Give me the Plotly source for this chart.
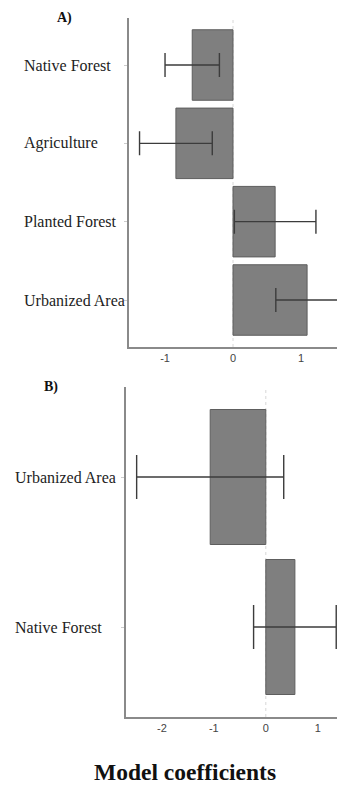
import plotly.graph_objects as go

# Panel A: land-use coefficients with symmetric error half-widths
cats_a = ["Native Forest", "Agriculture", "Planted Forest", "Urbanized Area"]
coef_a = [-0.60, -0.84, 0.62, 1.09]
err_a = [0.40, 0.535, 0.60, 0.46]

# Panel B
cats_b = ["Urbanized Area", "Native Forest"]
coef_b = [-1.07, 0.56]
err_b = [1.415, 0.795]

ticks_a = [-1, 0, 1]
ticks_b = [-2, -1, 0, 1]
ticktext_a = ["-1", "0", "1"]
ticktext_b = ["-2", "-1", "0", "1"]

W, H = 337, 785
bar_fill = "#7f7f7f"
bar_edge = "#5e5e5e"
err_col = "#3c3c3c"
serif = "Liberation Serif, Times New Roman, serif"
sans = "Liberation Sans, Arial, sans-serif"

fig = go.Figure()
fig.add_trace(go.Bar(
    y=cats_a, x=coef_a, orientation="h", width=0.9,
    marker=dict(color=bar_fill, line=dict(color=bar_edge, width=1)),
    error_x=dict(type="data", array=err_a, visible=True, color=err_col,
                 thickness=1.4, width=12),
    xaxis="x", yaxis="y", showlegend=False,
))
fig.add_trace(go.Bar(
    y=cats_b, x=coef_b, orientation="h", width=0.9,
    marker=dict(color=bar_fill, line=dict(color=bar_edge, width=1)),
    error_x=dict(type="data", array=err_b, visible=True, color=err_col,
                 thickness=1.4, width=22),
    xaxis="x2", yaxis="y2", showlegend=False,
))

axis_line = dict(showline=True, linecolor="#8a8a8a", linewidth=1.6,
                 showgrid=False, zeroline=False)

fig.update_layout(
    width=W, height=H,
    margin=dict(l=0, r=0, t=0, b=0),
    plot_bgcolor="white", paper_bgcolor="white",
    bargap=0.1,
    xaxis=dict(domain=[129 / W, 1.0], anchor="y", range=[-1.53, 1.53],
               tickvals=ticks_a, ticktext=ticktext_a, ticks="", ticklen=0,
               tickfont=dict(family=sans, size=11, color="#444"),
               **axis_line),
    yaxis=dict(domain=[1 - 347 / H, 1 - 18 / H], anchor="x",
               type="category", categoryorder="array", categoryarray=cats_a,
               range=[3.6, -0.6], showticklabels=False,
               ticks="outside", ticklen=3, tickcolor="#cccccc",
               **axis_line),
    xaxis2=dict(domain=[126 / W, 1.0], anchor="y2", range=[-2.69, 1.37],
                tickvals=ticks_b, ticktext=ticktext_b, ticks="", ticklen=0,
                tickfont=dict(family=sans, size=11, color="#444"),
                **axis_line),
    yaxis2=dict(domain=[1 - 717 / H, 1 - 387 / H], anchor="x2",
                type="category", categoryorder="array", categoryarray=cats_b,
                range=[1.6, -0.6], showticklabels=False,
                ticks="outside", ticklen=3, tickcolor="#cccccc",
                **axis_line),
)

# dotted reference line at zero in each panel
for xr, yr in (("x", "y domain"), ("x2", "y2 domain")):
    fig.add_shape(type="line", xref=xr, yref=yr, x0=0, x1=0, y0=0, y1=1,
                  line=dict(color="#d8d8d8", width=1, dash="dot"), layer="below")

# left-aligned category labels
for cat in cats_a:
    fig.add_annotation(text=cat, xref="paper", yref="y", x=22 / W, y=cat,
                       xanchor="left", yanchor="middle", showarrow=False,
                       font=dict(family=serif, size=16, color="#222"))
for cat in cats_b:
    fig.add_annotation(text=cat, xref="paper", yref="y2", x=13 / W, y=cat,
                       xanchor="left", yanchor="middle", showarrow=False,
                       font=dict(family=serif, size=16, color="#222"))

# panel tags and overall axis title
fig.add_annotation(text="<b>A)</b>", xref="paper", yref="paper",
                   x=64 / W, y=1 - 18 / H, xanchor="center", yanchor="middle",
                   showarrow=False, font=dict(family=serif, size=14, color="#111"))
fig.add_annotation(text="<b>B)</b>", xref="paper", yref="paper",
                   x=51 / W, y=1 - 387 / H, xanchor="center", yanchor="middle",
                   showarrow=False, font=dict(family=serif, size=14, color="#111"))
fig.add_annotation(text="<b>Model coefficients</b>", xref="paper", yref="paper",
                   x=185 / W, y=1 - 772 / H, xanchor="center", yanchor="middle",
                   showarrow=False, font=dict(family=serif, size=23.5, color="#111"))

fig.write_html("out.html")
